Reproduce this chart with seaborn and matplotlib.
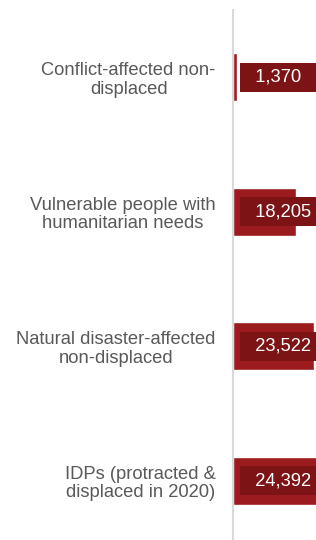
import numpy as np
import pandas as pd
import matplotlib
matplotlib.use("Agg")
import matplotlib.pyplot as plt
import seaborn as sns

categories = [
    "Conflict-affected non-\ndisplaced",
    "Vulnerable people with\nhumanitarian needs",
    "Natural disaster-affected\nnon-displaced",
    "IDPs (protracted &\ndisplaced in 2020)",
]
values = [1370, 18205, 23522, 24392]

bar_color = "#9b1b1e"
box_color = "#7c1315"
text_color = "#595959"

sns.set_theme(style="white")
plt.rcParams["font.family"] = ["Liberation Sans", "DejaVu Sans"]

df = pd.DataFrame({"group": categories, "people": values})

fig = plt.figure(figsize=(3.16, 5.40), dpi=100)
ax = fig.add_axes([232.5 / 316, -8 / 540, 1 - 232.5 / 316, 538 / 540])

sns.barplot(data=df, x="people", y="group", orient="h", color=bar_color,
            saturation=1, width=0.357, ax=ax)

ax.set_xlim(0, 24000)
ax.set_ylim(len(categories) - 0.5, -0.5)
ax.set_xlabel("")
ax.set_ylabel("")
ax.set_xticks([])
for s in ["top", "right", "bottom"]:
    ax.spines[s].set_visible(False)
ax.spines["left"].set_color("#d9d9d9")
ax.spines["left"].set_linewidth(1.5)
ax.tick_params(axis="y", length=0, pad=12)
for lbl in ax.get_yticklabels():
    lbl.set_fontsize(13.2)
    lbl.set_color(text_color)
    lbl.set_multialignment("center")
    lbl.set_linespacing(1.1)

# value labels: dark box starting just right of the axis, running off the edge
for i, v in enumerate(values):
    label = f"{v:,}"
    txt = "\u2002" + label + "  " * (6 - len(label))
    ax.annotate(txt, xy=(0, i), xytext=(9.6, 0),
                textcoords="offset points", ha="left", va="center",
                fontsize=13.2, color="white", annotation_clip=False,
                bbox=dict(boxstyle="square,pad=0.33", fc=box_color, ec="none"))

fig.savefig("out.png", dpi=100, facecolor="white")
